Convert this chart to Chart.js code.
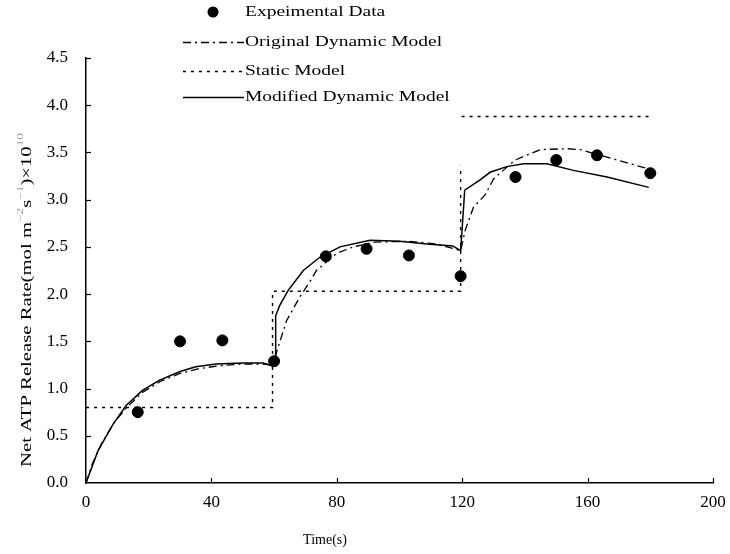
<!DOCTYPE html>
<html>
<head>
<meta charset="utf-8">
<script src="https://cdn.jsdelivr.net/npm/chart.js@4/dist/chart.umd.min.js"></script>
<style>
  body { margin: 0; background: #fff; }
  #wrap { width: 730px; height: 554px; }
</style>
</head>
<body>
<div id="wrap"><canvas id="atpChart"></canvas></div>
<script>
// Experimental data
const expTime = [16.5, 30, 43.5, 60, 76.5, 89.5, 103, 119.5, 137, 150, 163, 180];
const expRate = [0.75, 1.50, 1.51, 1.29, 2.40, 2.48, 2.41, 2.19, 3.24, 3.42, 3.47, 3.28];

// Original dynamic model (dash-dot)
const origTime = [0, 2, 5, 9, 13, 18, 24, 30, 36, 42, 50, 56, 59.5, 61.3, 64, 68.2, 71.4, 73.5, 79.9, 85.2, 92, 103, 112, 119.5,
                  121, 123.6, 127.3, 130, 136.9, 144.9, 153.4, 157.7, 169.4, 179];
const origRate = [0, 0.2, 0.42, 0.64, 0.8, 0.96, 1.08, 1.16, 1.21, 1.24, 1.26, 1.26, 1.25, 1.44, 1.72, 1.97, 2.13, 2.25, 2.43, 2.5, 2.55, 2.56, 2.53, 2.46,
                  2.68, 2.92, 3.05, 3.22, 3.42, 3.53, 3.54, 3.53, 3.42, 3.33];

// Static model (dotted steps)
const staticTime = [0, 59.5, 59.5, 119.5, 119.5, 119.5, 119.8, 180];
const staticRate = [0.8, 0.8, 2.03, 2.03, 3.36, null, 3.88, 3.88];

// Modified dynamic model (solid)
const modTime = [0, 1, 3.8, 8.6, 12.8, 18, 23.5, 30, 35, 41.5, 50, 56.5, 59.5, 60.3, 60.5, 61.8, 64.5, 69.3, 74.6, 81, 90.6, 100, 108.7, 117, 119.5,
                 120.2, 120.8, 125.7, 128.9, 134.2, 139.6, 147, 155.5, 166.2, 179.5];
const modRate = [0, 0.09, 0.34, 0.62, 0.82, 0.98, 1.09, 1.18, 1.23, 1.26, 1.27, 1.27, 1.24, 1.24, 1.77, 1.88, 2.04, 2.25, 2.39, 2.5, 2.57, 2.56, 2.53, 2.51, 2.46,
                 2.8, 3.1, 3.21, 3.29, 3.35, 3.38, 3.38, 3.31, 3.24, 3.13];

const xTicks = [40, 80, 120, 160, 200];
const yTicks = [0.5, 1.0, 1.5, 2.0, 2.5, 3.0, 3.5, 4.0, 4.5];

const legendLabels = ['Expeimental Data', 'Original Dynamic Model', 'Static Model', 'Modified Dynamic Model'];

const serif = '"Liberation Serif", "Times New Roman", serif';

function pairs(xs, ys) {
    return xs.map((x, i) => ({ x: x, y: ys[i] }));
}

// draws inward ticks, the stacked legend and both axis titles
const overlay = {
    id: 'overlay',
    afterDraw(chart) {
        const { ctx, scales: { x, y } } = chart;
        ctx.save();
        ctx.strokeStyle = '#000';
        ctx.lineWidth = 1.2;
        yTicks.forEach(v => {
            const py = Math.round(y.getPixelForValue(v)) + 0.5;
            ctx.beginPath(); ctx.moveTo(x.left, py); ctx.lineTo(x.left + 5, py); ctx.stroke();
        });
        xTicks.forEach(v => {
            const px = Math.round(x.getPixelForValue(v)) + 0.5;
            ctx.beginPath(); ctx.moveTo(px, y.bottom); ctx.lineTo(px, y.bottom - 5); ctx.stroke();
        });

        // legend
        const rows = [12, 42, 71, 97];
        const ds = chart.data.datasets;
        ctx.font = '15px ' + serif;
        ctx.textBaseline = 'middle';
        ctx.fillStyle = '#000';
        legendLabels.forEach((label, i) => {
            const d = ds[i];
            const ly = rows[i];
            if (i === 0) {
                ctx.beginPath();
                ctx.arc(213, ly, d.pointRadius, 0, Math.PI * 2);
                ctx.fill();
            } else {
                ctx.setLineDash(d.borderDash || []);
                ctx.lineWidth = d.borderWidth;
                ctx.beginPath(); ctx.moveTo(183, ly + 0.5); ctx.lineTo(244, ly + 0.5); ctx.stroke();
                ctx.setLineDash([]);
            }
            ctx.save();
            ctx.translate(245, ly);
            ctx.scale(1.3, 1);
            ctx.textAlign = 'left';
            ctx.fillText(label, 0, 0);
            ctx.restore();
        });

        // x title
        ctx.font = '14px ' + serif;
        ctx.textAlign = 'center';
        ctx.fillText('Time(s)', 325, 540);

        // y title with grey superscripts
        const parts = [
            { t: 'Net ATP Release Rate(mol m', sup: false },
            { t: '\u22122', sup: true },
            { t: 's', sup: false },
            { t: '\u22121', sup: true },
            { t: ')\u00d710', sup: false },
            { t: '10', sup: true }
        ];
        const big = '14px ' + serif, small = '9px ' + serif;
        let total = 0;
        parts.forEach(p => { ctx.font = p.sup ? small : big; p.w = ctx.measureText(p.t).width; total += p.w; });
        const span = 334;
        ctx.save();
        ctx.translate(27, 300);
        ctx.rotate(-Math.PI / 2);
        ctx.scale(span / total, 1);
        ctx.textAlign = 'left';
        let cx = -total / 2;
        parts.forEach(p => {
            ctx.font = p.sup ? small : big;
            ctx.fillStyle = p.sup ? '#999' : '#000';
            ctx.fillText(p.t, cx, p.sup ? -6 : 0);
            cx += p.w;
        });
        ctx.restore();
        ctx.restore();
    }
};

const ctx = document.getElementById('atpChart').getContext('2d');
new Chart(ctx, {
    type: 'scatter',
    data: {
        datasets: [{
            label: legendLabels[0],
            data: pairs(expTime, expRate),
            backgroundColor: '#000',
            borderColor: '#000',
            pointRadius: 5.5,
            pointHoverRadius: 5.5,
            showLine: false,
            order: 0
        }, {
            label: legendLabels[1],
            data: pairs(origTime, origRate),
            showLine: true,
            borderColor: '#000',
            borderWidth: 1.3,
            borderDash: [8, 4, 2, 4],
            pointRadius: 0,
            tension: 0,
            order: 1
        }, {
            label: legendLabels[2],
            data: pairs(staticTime, staticRate),
            showLine: true,
            spanGaps: false,
            borderColor: '#000',
            borderWidth: 1.4,
            borderDash: [3, 5],
            pointRadius: 0,
            tension: 0,
            order: 2
        }, {
            label: legendLabels[3],
            data: pairs(modTime, modRate),
            showLine: true,
            borderColor: '#000',
            borderWidth: 1.5,
            pointRadius: 0,
            tension: 0,
            order: 3
        }]
    },
    options: {
        responsive: true,
        maintainAspectRatio: false,
        animation: false,
        layout: { padding: { top: 58, right: 17, left: 0, bottom: 0 } },
        plugins: {
            legend: { display: false },
            tooltip: { enabled: false }
        },
        scales: {
            x: {
                type: 'linear',
                min: 0,
                max: 200,
                ticks: { stepSize: 40, color: '#000', font: { family: serif, size: 17 }, padding: 9 },
                grid: { display: false, drawTicks: false },
                border: { display: true, color: '#000', width: 1.5 },
                afterFit: s => { s.height = 71; s.paddingRight = 0; s.paddingLeft = 0; }
            },
            y: {
                min: 0,
                max: 4.5,
                ticks: { stepSize: 0.5, color: '#000', font: { family: serif, size: 17 }, padding: 18,
                         callback: v => Number(v).toFixed(1) },
                grid: { display: false, drawTicks: false },
                border: { display: true, color: '#000', width: 1.5 },
                afterFit: s => { s.width = 86; s.paddingTop = 0; s.paddingBottom = 0; }
            }
        }
    },
    plugins: [overlay]
});
</script>
</body>
</html>
